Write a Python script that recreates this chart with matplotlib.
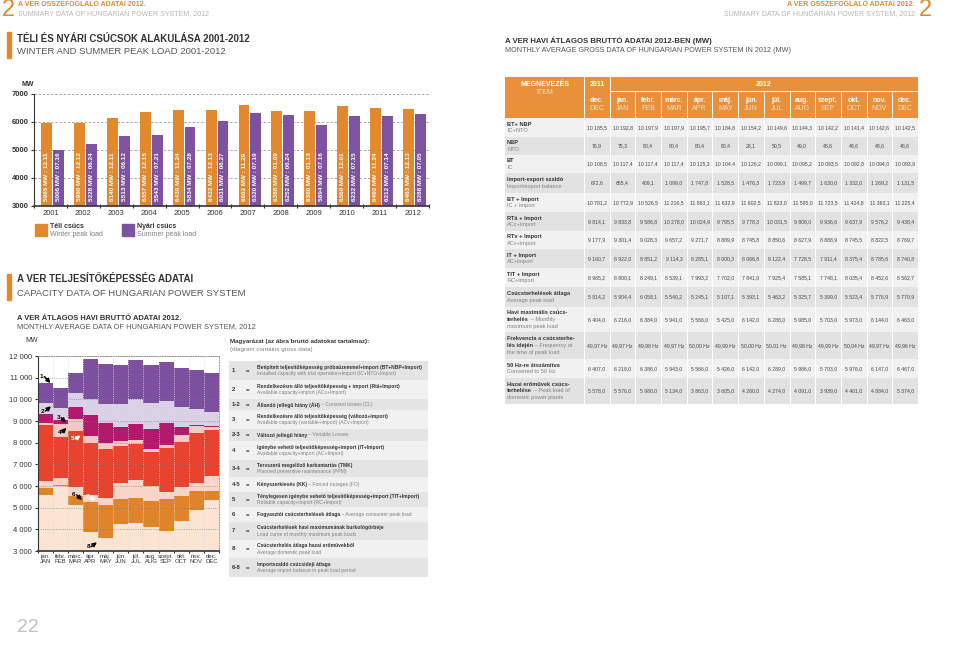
import matplotlib
matplotlib.use('Agg')
import matplotlib.pyplot as plt
from matplotlib.patches import Rectangle
import numpy as np

plt.rcParams['font.family'] = ['Liberation Sans', 'DejaVu Sans']

W, H = 960, 665
ORANGE = '#e2892e'
PURPLE = '#7c52a1'
DARK = '#333333'
GREY = '#808080'

# ---------------- winter / summer peaks ----------------
years = [str(y) for y in range(2001, 2013)]
winter_mw = [5965, 5980, 6140, 6357, 6439, 6432, 6602, 6388, 6380, 6560, 6492, 6463]
winter_day = ['12.11', '12.12', '12.11', '12.15', '11.24', '12.13', '11.29', '01.09', '01.13', '12.01', '11.24', '12.13']
summer_mw = [5006, 5228, 5513, 5543, 5834, 6031, 6320, 6252, 5894, 6232, 6212, 6288]
summer_day = ['07.16', '06.24', '06.12', '07.21', '07.28', '06.27', '07.19', '06.24', '07.16', '07.15', '07.14', '07.05']

# ---------------- monthly table (dec 2011 + 2012) ----------------
cols_hu = ['dec.', 'jan.', 'febr.', 'márc.', 'ápr.', 'máj.', 'jún.', 'júl.', 'aug.', 'szept.', 'okt.', 'nov.', 'dec.']
cols_en = ['DEC', 'JAN', 'FEB', 'MAR', 'APR', 'MAY', 'JUN', 'JUL', 'AUG', 'SEP', 'OCT', 'NOV', 'DEC']
bt_nbp = [10185.5, 10192.8, 10197.9, 10197.9, 10195.7, 10184.8, 10154.2, 10149.6, 10144.3, 10142.2, 10141.4, 10142.6, 10142.5]
nbp = [76.9, 75.3, 80.4, 80.4, 80.4, 80.4, 28.1, 50.5, 49.0, 48.6, 48.6, 48.6, 48.6]
bt = [10108.5, 10117.4, 10117.4, 10117.4, 10115.3, 10104.4, 10126.2, 10099.1, 10095.2, 10093.5, 10092.8, 10094.0, 10093.9]
imp_exp = [672.6, 655.4, 409.1, 1099.0, 1747.8, 1528.5, 1476.3, 1723.9, 1499.7, 1630.0, 1332.0, 1269.2, 1131.5]
bt_imp = [10781.2, 10772.9, 10526.5, 11216.5, 11863.1, 11632.9, 11602.5, 11823.0, 11595.0, 11723.5, 11424.8, 11363.1, 11225.4]
rta_imp = [9814.1, 9833.8, 9586.8, 10278.0, 10024.9, 9795.5, 9778.3, 10031.5, 9808.0, 9936.6, 9637.9, 9576.2, 9438.4]
rtv_imp = [9177.9, 9301.4, 9028.3, 9657.2, 9271.7, 8889.9, 8745.8, 8850.6, 8627.9, 8888.9, 8745.5, 8822.5, 8769.7]
it_imp = [9160.7, 8922.0, 8851.2, 9114.3, 8285.1, 8000.3, 8066.8, 8122.4, 7728.5, 7911.4, 8375.4, 8785.6, 8740.8]
tit_imp = [8965.2, 8800.1, 8249.1, 8539.1, 7993.2, 7702.0, 7841.9, 7925.4, 7585.1, 7748.1, 8035.4, 8452.6, 8562.7]
avg_peak = [5814.2, 5904.4, 6058.1, 5540.2, 5245.1, 5107.1, 5393.1, 5463.2, 5325.7, 5399.0, 5523.4, 5776.9, 5770.9]
max_peak = [6404.0, 6216.0, 6384.0, 5941.0, 5566.0, 5425.0, 6142.0, 6288.0, 5985.0, 5703.0, 5973.0, 6144.0, 6463.0]
freq = [49.97, 49.97, 49.98, 49.97, 50.00, 49.99, 50.00, 50.01, 49.98, 49.99, 50.04, 49.97, 49.96]
peak_50hz = [6407.0, 6218.0, 6386.0, 5943.0, 5566.0, 5426.0, 6142.0, 6289.0, 5986.0, 5703.0, 5976.0, 6147.0, 6467.0]
domestic = [5578.0, 5576.0, 5980.0, 5134.0, 3863.0, 3605.0, 4260.0, 4274.0, 4091.0, 3939.0, 4401.0, 4884.0, 5374.0]


def hu(v):
    return f"{v:,.1f}".replace(',', ' ').replace('.', ',')


def rect(l, t, r, b):
    return [l / W, 1 - b / H, (r - l) / W, (b - t) / H]


fig = plt.figure(figsize=(9.6, 6.65), dpi=100)
bg = fig.add_axes([0, 0, 1, 1])
bg.set_xlim(0, W)
bg.set_ylim(H, 0)
bg.axis('off')
renderer = fig.canvas.get_renderer()


def mixed(x, y, parts, size):
    for s, weight, color in parts:
        t = bg.text(x, y, s, fontsize=size, fontweight=weight, color=color, va='center', ha='left')
        x += t.get_window_extent(renderer).width


# ---------------- page headers ----------------
bg.text(2, 10, '2', fontsize=17, color=ORANGE, va='center', ha='left')
bg.text(18, 5, 'A VER ÖSSZEFOGLALÓ ADATAI 2012.', fontsize=5, color=ORANGE, va='center', fontweight='bold')
bg.text(18, 14, 'SUMMARY DATA OF HUNGARIAN POWER SYSTEM, 2012', fontsize=5, color='#b5b5b5', va='center')
bg.text(932, 10, '2', fontsize=17, color=ORANGE, va='center', ha='right')
bg.text(915, 5, 'A VER ÖSSZEFOGLALÓ ADATAI 2012.', fontsize=5, color=ORANGE, va='center', ha='right', fontweight='bold')
bg.text(915, 14, 'SUMMARY DATA OF HUNGARIAN POWER SYSTEM, 2012', fontsize=5, color='#b5b5b5', va='center', ha='right')

bg.add_patch(Rectangle((7, 32), 4, 26, color=ORANGE))
bg.text(17, 39, 'TÉLI ÉS NYÁRI CSÚCSOK ALAKULÁSA 2001-2012', fontsize=7, fontweight='bold', color=DARK, va='center')
bg.text(17, 52, 'WINTER AND SUMMER PEAK LOAD 2001-2012', fontsize=6.8, color='#555555', va='center')

bg.text(505, 41, 'A VER HAVI ÁTLAGOS BRUTTÓ ADATAI 2012-BEN (MW)', fontsize=5.6, fontweight='bold', color=DARK, va='center')
bg.text(505, 51, 'MONTHLY AVERAGE GROSS DATA OF HUNGARIAN POWER SYSTEM IN 2012 (MW)', fontsize=5.2, color='#555555', va='center')

bg.add_patch(Rectangle((7, 274), 4, 26, color=ORANGE))
bg.text(17, 279, 'A VER TELJESÍTŐKÉPESSÉG ADATAI', fontsize=7, fontweight='bold', color=DARK, va='center')
bg.text(17, 293, 'CAPACITY DATA OF HUNGARIAN POWER SYSTEM', fontsize=6.8, color='#555555', va='center')
bg.text(17, 318, 'A VER ÁTLAGOS HAVI BRUTTÓ ADATAI 2012.', fontsize=5.4, fontweight='bold', color=DARK, va='center')
bg.text(17, 327, 'MONTHLY AVERAGE DATA OF HUNGARIAN POWER SYSTEM, 2012', fontsize=5.4, color='#555555', va='center')

bg.text(17, 628, '22', fontsize=14, color='#c0c0c0', va='center')

# ---------------- winter / summer bar chart ----------------
ax = fig.add_axes(rect(34, 94, 429, 206))
x = np.arange(len(years))
ax.bar(x + 0.38, np.array(winter_mw) - 3000, width=0.33, bottom=3000, color=ORANGE, zorder=2)
ax.bar(x + 0.74, np.array(summer_mw) - 3000, width=0.33, bottom=3000, color=PURPLE, zorder=2)
for i in range(len(years)):
    ax.text(i + 0.38, 3180, f'{winter_mw[i]} MW : {winter_day[i]}', rotation=90, ha='center', va='bottom',
            color='white', fontsize=4.6, fontweight='bold', zorder=3)
    ax.text(i + 0.74, 3180, f'{summer_mw[i]} MW : {summer_day[i]}', rotation=90, ha='center', va='bottom',
            color='white', fontsize=4.6, fontweight='bold', zorder=3)
ax.set_xlim(0, 12)
ax.set_ylim(3000, 7000)
ax.set_yticks([3000, 4000, 5000, 6000, 7000])
ax.set_yticklabels(['3000', '4000', '5000', '6000', '7000'], fontsize=5.5, fontweight='bold', color=DARK)
for yv in [4000, 5000, 6000, 7000]:
    ax.axhline(yv, color='#9a9a9a', lw=0.6, ls=(0, (3, 2)), zorder=1)
ax.set_xticks(x + 0.5)
ax.set_xticklabels(years, fontsize=5.5, color=DARK)
ax.set_xticks(np.arange(13), minor=True)
ax.tick_params(axis='x', which='major', length=0, pad=3)
ax.tick_params(axis='x', which='minor', length=3, width=0.8, color=DARK, direction='inout')
ax.tick_params(axis='y', length=2, width=0.8, color=DARK, pad=2)
for s in ['top', 'right']:
    ax.spines[s].set_visible(False)
ax.spines['left'].set_color(DARK)
ax.spines['bottom'].set_color(DARK)
ax.spines['bottom'].set_linewidth(1.2)
ax.patch.set_alpha(0)
bg.text(21, 84, 'MW', fontsize=5, fontweight='bold', color=DARK, va='center')

bg.add_patch(Rectangle((35, 224), 12, 12, color=ORANGE))
bg.text(50, 227, 'Téli csúcs', fontsize=5, fontweight='bold', color=DARK, va='center')
bg.text(50, 234, 'Winter peak load', fontsize=5, color=GREY, va='center')
bg.add_patch(Rectangle((122, 224), 12, 12, color=PURPLE))
bg.text(137, 227, 'Nyári csúcs', fontsize=5, fontweight='bold', color=DARK, va='center')
bg.text(137, 234, 'Summer peak load', fontsize=5, color=GREY, va='center')

# ---------------- stacked capacity chart ----------------
sx = fig.add_axes(rect(37.7, 356, 219, 551))
m = np.arange(12)
layers = [
    (np.full(12, 3000.0), domestic[1:], '#fbe4d1'),
    (domestic[1:], avg_peak[1:], '#e0842c'),
    (avg_peak[1:], max_peak[1:], '#f9d4c7'),
    (max_peak[1:], tit_imp[1:], '#e8432f'),
    (tit_imp[1:], it_imp[1:], '#f4c8c3'),
    (it_imp[1:], rtv_imp[1:], '#b2186b'),
    (rtv_imp[1:], rta_imp[1:], '#dbd1e7'),
    (rta_imp[1:], bt_imp[1:], '#7d4f9f'),
]
for lo, hi, c in layers:
    lo = np.array(lo)
    hi = np.array(hi)
    sx.bar(m + 0.5, hi - lo, bottom=lo, width=1.0, color=c, linewidth=0, zorder=2)
for yv in range(4000, 12001, 1000):
    sx.axhline(yv, color='#777777', lw=0.6, ls=':', alpha=0.8, zorder=3)
for xv in range(1, 12):
    sx.axvline(xv, color='#dddddd', lw=0.6, ls=':', zorder=3)
sx.set_xlim(0, 12)
sx.set_ylim(3000, 12000)
yt = list(range(3000, 12001, 1000))
sx.set_yticks(yt)
sx.set_yticklabels([f'{v // 1000} 000' for v in yt], fontsize=5.5, color=DARK)
sx.set_xticks(m + 0.5)
sx.set_xticklabels([f'{a}\n{b}' for a, b in zip(cols_hu[1:], cols_en[1:])], fontsize=4.3, color=DARK,
                   linespacing=0.95)
sx.set_xticks(np.arange(13), minor=True)
sx.tick_params(axis='x', which='major', length=0, pad=2)
sx.tick_params(axis='x', which='minor', length=3, width=0.8, color=DARK, direction='inout')
sx.tick_params(axis='y', length=2, width=0.8, color=DARK, pad=2)
for s in ['top', 'right']:
    sx.spines[s].set_linestyle(':')
    sx.spines[s].set_color('#999999')
    sx.spines[s].set_linewidth(0.7)
sx.spines['left'].set_color(DARK)
sx.spines['bottom'].set_color(DARK)
sx.spines['bottom'].set_linewidth(1.2)
bg.text(25, 341, 'MW', fontsize=5, color=DARK, va='center')

arrows = [
    ('1', (0.26, 11050), (0.85, 10750), 'black'),
    ('2', (0.33, 9460), (0.88, 9680), 'black'),
    ('3', (1.37, 9150), (1.87, 8930), 'black'),
    ('4', (1.43, 8480), (1.9, 8680), 'black'),
    ('5', (2.32, 8170), (2.85, 8330), 'white'),
    ('6', (2.4, 5590), (2.93, 5350), 'black'),
    ('7', (3.28, 5510), (3.82, 5350), 'white'),
    ('8', (3.35, 3200), (3.92, 3400), 'black'),
]
for lab, (tx, ty), (hx, hy), c in arrows:
    sx.annotate('', xy=(hx, hy), xytext=(tx + 0.18, ty), zorder=5,
                arrowprops=dict(arrowstyle='-|>', color=c, lw=1.1, mutation_scale=6, shrinkA=0, shrinkB=0))
    sx.text(tx, ty, lab, fontsize=4.6, fontweight='bold', color=c, ha='center', va='center', zorder=5)

# ---------------- legend table ----------------
bg.text(230, 342, 'Magyarázat (az ábra bruttó adatokat tartalmaz):', fontsize=4.5, fontweight='bold', color=DARK, va='center')
bg.text(230, 349, '(diagram contains gross data)', fontsize=4.5, color=GREY, va='center')
leg_rows = [
    ('1', 361, 380, [[('Beépített teljesítőképesség próbaüzemmel+import (BT+NBP+Import)', 'bold', DARK)],
                     [('Installed capacity with trial operation+import (IC+NTO+Import)', 'normal', GREY)]]),
    ('2', 380, 399, [[('Rendelkezésre álló teljesítőképesség + import (Rtá+Import)', 'bold', DARK)],
                     [('Available capacity+import (ACc+Import)', 'normal', GREY)]]),
    ('1-2', 399, 410, [[('Állandó jellegű hiány (ÁH)', 'bold', DARK), (' – Constant losses (CL)', 'normal', GREY)]]),
    ('3', 410, 429, [[('Rendelkezésre álló teljesítőképesség (változó+import)', 'bold', DARK)],
                     [('Available capacity (variable+import) (ACv+Import)', 'normal', GREY)]]),
    ('2-3', 429, 441, [[('Változó jellegű hiány', 'bold', DARK), (' – Variable Losses', 'normal', GREY)]]),
    ('4', 441, 460, [[('Igénybe vehető teljesítőképesség+import (IT+Import)', 'bold', DARK)],
                     [('Available capacity+import (AC+Import)', 'normal', GREY)]]),
    ('3-4', 460, 477, [[('Tervszerű megelőző karbantartás (TMK)', 'bold', DARK)],
                       [('Planned preventive maintenance (PPM)', 'normal', GREY)]]),
    ('4-5', 477, 492, [[('Kényszerkiesés (KK)', 'bold', DARK), (' – Forced outages (FO)', 'normal', GREY)]]),
    ('5', 492, 507, [[('Ténylegesen igénybe vehető teljesítőképesség+import (TIT+Import)', 'bold', DARK)],
                     [('Reliable capacity+import (RC+Import)', 'normal', GREY)]]),
    ('6', 507, 522, [[('Fogyasztói csúcsterhelések átlaga', 'bold', DARK),
                      (' – Average consumer peak load', 'normal', GREY)]]),
    ('7', 522, 540, [[('Csúcsterhelések havi maximumának burkológörbéje', 'bold', DARK)],
                     [('Load curve of monthly maximum peak loads', 'normal', GREY)]]),
    ('8', 540, 558, [[('Csúcsterhelés átlaga hazai erőművekből', 'bold', DARK)],
                     [('Average domestic peak load', 'normal', GREY)]]),
    ('6-8', 558, 577, [[('Importszaldó csúcsidejí átlaga', 'bold', DARK)],
                       [('Average import balance in peak load period', 'normal', GREY)]]),
]
for k, (num, t, b, lines) in enumerate(leg_rows):
    bg.add_patch(Rectangle((229, t), 199, b - t, color='#e4e4e4' if k % 2 == 0 else '#f1f1f1', lw=0))
    yc = (t + b) / 2
    bg.text(232, yc, num, fontsize=4.3, fontweight='bold', color=DARK, va='center')
    bg.text(246, yc, '=', fontsize=4.3, fontweight='bold', color=DARK, va='center')
    n = len(lines)
    for j, parts in enumerate(lines):
        mixed(257, yc + (j - (n - 1) / 2) * 6.5, parts, 3.6)

# ---------------- monthly data table ----------------
hdr_col = '#e8913a'
hdr_light = '#f9dcbc'
bg.add_patch(Rectangle((505, 77), 413, 41, color=hdr_col, lw=0))
col_x0 = 584
col_w = (918 - 584) / 13
for k in range(14):
    xx = col_x0 + k * col_w
    if k in (0, 1):
        bg.plot([xx, xx], [77, 118], color='white', lw=0.7)
    elif k < 13:
        bg.plot([xx, xx], [91, 118], color='white', lw=0.7)
bg.plot([col_x0 + col_w, 918], [91, 91], color='white', lw=0.7)
bg.text(545, 84, 'MEGNEVEZÉS', fontsize=5, fontweight='bold', color='white', ha='center', va='center')
bg.text(545, 93, 'ITEM', fontsize=5, color=hdr_light, ha='center', va='center')
bg.text(col_x0 + col_w / 2, 84, '2011', fontsize=5, fontweight='bold', color='white', ha='center', va='center')
bg.text(col_x0 + col_w + 6 * col_w, 84, '2012', fontsize=5, fontweight='bold', color='white', ha='center', va='center')
for k in range(13):
    xc = col_x0 + col_w * (k + 0.5)
    bg.text(xc, 100, cols_hu[k], fontsize=5, fontweight='bold', color='white', ha='center', va='center')
    bg.text(xc, 108, cols_en[k], fontsize=5, color=hdr_light, ha='center', va='center')

rows = [
    (118, 137, [[('BT+ NBP', 'bold', DARK)], [('IC+NTO', 'normal', GREY)]], [hu(v) for v in bt_nbp]),
    (137, 155, [[('NBP', 'bold', DARK)], [('NTO', 'normal', GREY)]], [hu(v) for v in nbp]),
    (155, 173, [[('BT', 'bold', DARK)], [('IC', 'normal', GREY)]], [hu(v) for v in bt]),
    (173, 193, [[('Import-export szaldó', 'bold', DARK)], [('Import/export balance', 'normal', GREY)]],
     [hu(v) for v in imp_exp]),
    (193, 212, [[('BT + Import', 'bold', DARK)], [('IC + import', 'normal', GREY)]], [hu(v) for v in bt_imp]),
    (212, 231, [[('RTá + Import', 'bold', DARK)], [('ACc+import', 'normal', GREY)]], [hu(v) for v in rta_imp]),
    (231, 249, [[('RTv + Import', 'bold', DARK)], [('ACv+import', 'normal', GREY)]], [hu(v) for v in rtv_imp]),
    (249, 268, [[('IT + Import', 'bold', DARK)], [('AC+import', 'normal', GREY)]], [hu(v) for v in it_imp]),
    (268, 287, [[('TIT + Import', 'bold', DARK)], [('RC+import', 'normal', GREY)]], [hu(v) for v in tit_imp]),
    (287, 307, [[('Csúcsterhelések átlaga', 'bold', DARK)], [('Average peak load', 'normal', GREY)]],
     [hu(v) for v in avg_peak]),
    (307, 332, [[('Havi maximális csúcs-', 'bold', DARK)],
                [('terhelés', 'bold', DARK), (' – Monthly', 'normal', GREY)],
                [('maximum peak load', 'normal', GREY)]], [hu(v) for v in max_peak]),
    (332, 359, [[('Frekvencia a csúcsterhe-', 'bold', DARK)],
                [('lés idején', 'bold', DARK), (' – Frequency at', 'normal', GREY)],
                [('the time of peak load', 'normal', GREY)]], [f'{v:.2f}'.replace('.', ',') + ' Hz' for v in freq]),
    (359, 378, [[('50 Hz-re átszámítva', 'bold', DARK)], [('Converted to 50 Hz', 'normal', GREY)]],
     [hu(v) for v in peak_50hz]),
    (378, 404, [[('Hazai erőművek csúcs-', 'bold', DARK)],
                [('terhelése', 'bold', DARK), (' – Peak load of', 'normal', GREY)],
                [('domestic power plants', 'normal', GREY)]], [hu(v) for v in domestic]),
]
for k, (t, b, lines, vals) in enumerate(rows):
    bg.add_patch(Rectangle((505, t), 413, b - t, color='#f1f1f1' if k % 2 == 0 else '#e2e2e2', lw=0))
    yc = (t + b) / 2
    n = len(lines)
    for j, parts in enumerate(lines):
        mixed(507, yc + (j - (n - 1) / 2) * 6.8, parts, 4.1)
    for c, v in enumerate(vals):
        bg.text(col_x0 + col_w * (c + 0.5), yc, v, fontsize=3.7, color='#444444', ha='center', va='center')
for k in range(14):
    xx = col_x0 + k * col_w
    bg.plot([xx, xx], [118, 404], color='white', lw=0.7)

fig.savefig('out.png', dpi=100)
